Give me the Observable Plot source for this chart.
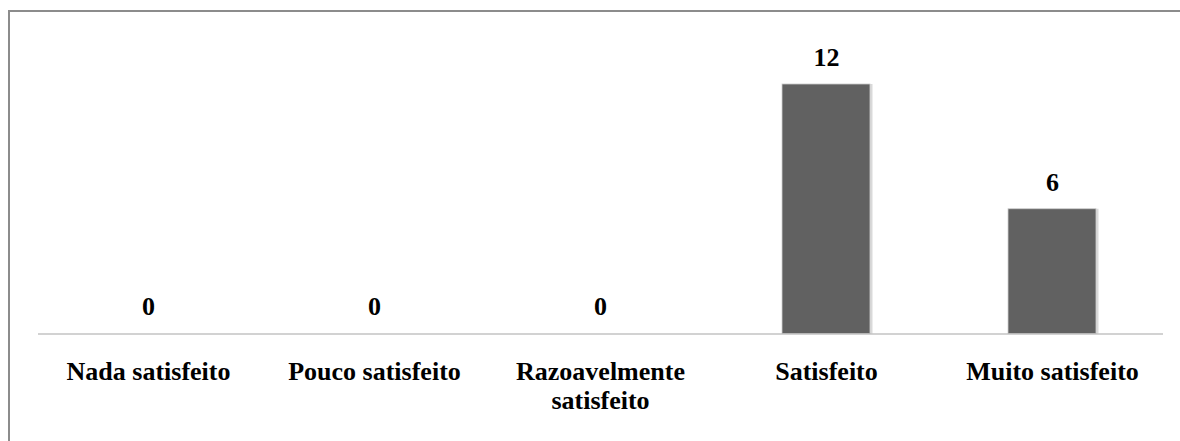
<!DOCTYPE html>
<html>
<head>
<meta charset="utf-8">
<script src="https://cdn.jsdelivr.net/npm/d3@7"></script>
<script src="https://cdn.jsdelivr.net/npm/@observablehq/plot@0.6"></script>
<style>
  html, body { margin: 0; padding: 0; background: #fff; overflow: hidden; }
  #chart svg, #chart svg text { font-family: "Liberation Serif", "Times New Roman", Times, serif !important; font-weight: bold; }
</style>
</head>
<body>
<div id="chart"></div>
<script>
const categories = ["Nada satisfeito", "Pouco satisfeito", "Razoavelmente satisfeito", "Satisfeito", "Muito satisfeito"];
const values = [0, 0, 0, 12, 6];
const tickLabels = ["Nada satisfeito", "Pouco satisfeito", "Razoavelmente\nsatisfeito", "Satisfeito", "Muito satisfeito"];

const data = categories.map((c, i) => ({category: c, value: values[i]}));
const labelOf = new Map(categories.map((c, i) => [c, tickLabels[i]]));

const chart = Plot.plot({
  width: 1180,
  height: 441,
  marginLeft: 38,
  marginRight: 17,
  marginTop: 42.4,
  marginBottom: 107.5,
  style: {background: "#fff", color: "#000"},
  x: {domain: categories, paddingInner: 0.61, paddingOuter: 0.29},
  y: {domain: [0, 14], axis: null},
  marks: [
    Plot.barY(data, {x: "category", y: "value", fill: "#d9d9d9", dx: 2.5}),
    Plot.barY(data, {x: "category", y: "value", fill: "#616161", stroke: "#cfcfcf", strokeWidth: 0.8}),
    Plot.ruleY([0], {stroke: "#a6a6a6", strokeWidth: 1.2}),
    Plot.text(data, {x: "category", y: "value", text: d => String(d.value), dy: -27,
      lineAnchor: "middle", fontSize: 26, fill: "#000"}),
    Plot.axisX({tickSize: 0, tickPadding: 25, fontSize: 26,
      lineHeight: 1.13, tickFormat: d => labelOf.get(d), label: null, fill: "#000"})
  ]
});
// decorative frame: left and top edges only, as in the cropped original
d3.select(chart).append("path")
  .attr("d", "M9,441V11H1180")
  .attr("fill", "none")
  .attr("stroke", "#8c8c8c")
  .attr("stroke-width", 2);
document.getElementById("chart").appendChild(chart);
</script>
</body>
</html>
